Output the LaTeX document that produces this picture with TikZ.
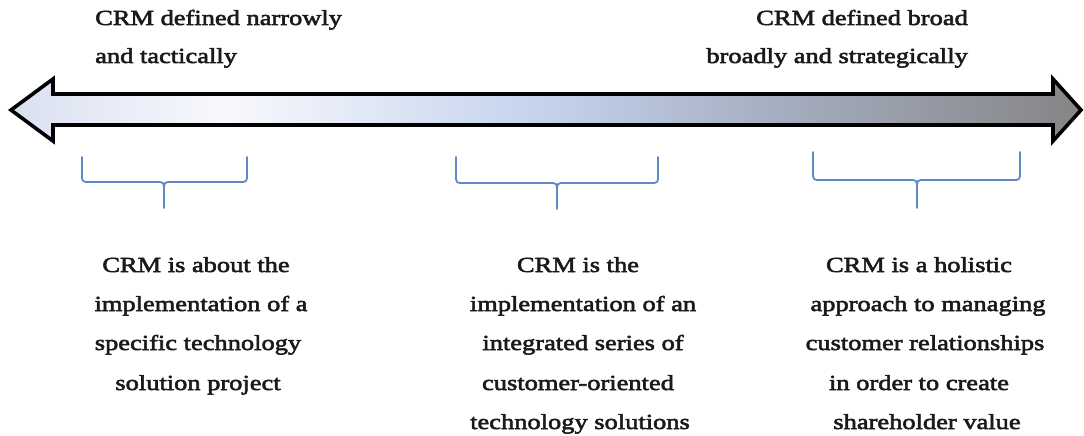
\documentclass[tikz,border=0pt]{standalone}
\usepackage{fontspec}
\newfontfamily\lblfont{Liberation Serif}[FakeStretch=1.23,FakeBold=2.6]
\definecolor{gA}{HTML}{DAE0F1}
\definecolor{gB}{HTML}{F8F9FD}
\definecolor{gC}{HTML}{C4D2EC}
\definecolor{gD}{HTML}{A2AABB}
\definecolor{gE}{HTML}{858586}
\definecolor{bracecol}{HTML}{5E88C6}
\definecolor{txtcol}{HTML}{1A1A1A}
\pgfdeclarehorizontalshading{crmgrad}{100bp}{color(0bp)=(gA); color(25bp)=(gA); color(35bp)=(gB); color(50bp)=(gC); color(62bp)=(gD); color(75bp)=(gE); color(100bp)=(gE)}
\tikzset{
  lbl/.style={inner sep=0pt, text=txtcol, font=\lblfont\fontsize{21.5}{26}\selectfont},
  linec/.style={lbl, anchor=base},
  linel/.style={lbl, anchor=base west},
  liner/.style={lbl, anchor=base east},
  bracepath/.style={draw=bracecol, line width=1.8pt, line cap=round, line join=round},
  bigarrow/.style={draw=black, line width=3.6pt, line join=miter, shading=crmgrad}
}
\newcommand{\crmbrace}[6]{% left, right, centre, top, mid, bottom
  \draw[bracepath] (#1,#4) -- (#1,#5-8) .. controls (#1,#5) .. (#1+8,#5) -- (#3-8,#5)
     .. controls (#3,#5) .. (#3,#5+9) -- (#3,#6);
  \draw[bracepath] (#3,#5+9) .. controls (#3,#5) .. (#3+8,#5) -- (#2-8,#5)
     .. controls (#2,#5) .. (#2,#5-8) -- (#2,#4);
}
\begin{document}
\begin{tikzpicture}[x=1pt,y=-1pt]
\useasboundingbox (0,0) rectangle (1084,436);
% double arrow
\path[bigarrow] (11,110) -- (53,79) -- (53,94) -- (1053,94) -- (1053,79) -- (1081,110)
  -- (1053,141) -- (1053,125) -- (53,125) -- (53,141) -- cycle;
% top labels
\node[linel] (tl1) at (95,25) {CRM defined narrowly};
\node[linel] (tl2) at (95,63) {and tactically};
\node[liner] (tr1) at (968,25) {CRM defined broad};
\node[liner] (tr2) at (968,63) {broadly and strategically};
% braces
\crmbrace{82}{247}{164}{157}{182}{208}
\crmbrace{456}{658}{557}{157}{183}{209}
\crmbrace{813}{1020}{917}{152}{180}{208}
% left block
\node[linec] (a1) at (196,272) {CRM is about the};
\node[linec] (a2) at (201,311) {implementation of a};
\node[linec] (a3) at (198,350) {specific technology};
\node[linec] (a4) at (198,390) {solution project};
% middle block
\node[linec] (b1) at (578,272) {CRM is the};
\node[linec] (b2) at (583,311) {implementation of an};
\node[linec] (b3) at (583,350) {integrated series of};
\node[linec] (b4) at (578,390) {customer-oriented};
\node[linec] (b5) at (580,429) {technology solutions};
% right block
\node[linec] (c1) at (919,272) {CRM is a holistic};
\node[linec] (c2) at (928,311) {approach to managing};
\node[linec] (c3) at (925,350) {customer relationships};
\node[linec] (c4) at (919,390) {in order to create};
\node[linec] (c5) at (927,429) {shareholder value};
\end{tikzpicture}
\end{document}
